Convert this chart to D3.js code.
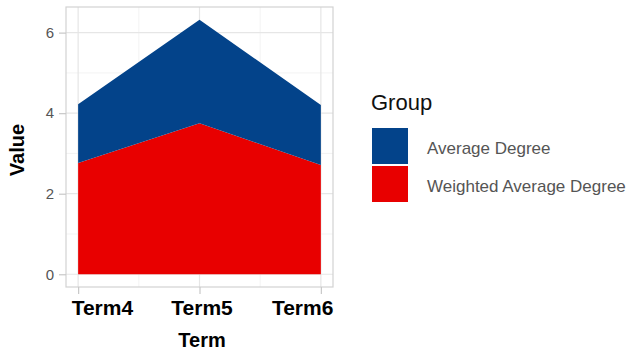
<!DOCTYPE html>
<html>
<head>
<meta charset="utf-8">
<script src="https://cdn.jsdelivr.net/npm/d3@7"></script>
<style>
  html, body { margin: 0; padding: 0; background: #fff; }
  svg { display: block; }
</style>
</head>
<body>
<svg id="chart" width="635" height="351"></svg>
<script>
// Terms on the x axis
const terms = ["Term4", "Term5", "Term6"];
// Group values per term (stacked areas; first group sits on top)
const weightedAverageDegree = [2.76, 3.75, 2.71];
const averageDegree = [1.46, 2.57, 1.49];
const groups = ["Average Degree", "Weighted Average Degree"];
const groupColors = ["#03438A", "#E80000"];
const yTicks = [0, 2, 4, 6];
const yMinorTicks = [1, 3, 5];

const svg = d3.select("#chart");
const panel = { left: 66, top: 7, right: 333, bottom: 287 };

const rows = terms.map((t, i) => ({
  term: t, i,
  "Weighted Average Degree": weightedAverageDegree[i],
  "Average Degree": averageDegree[i]
}));

// Stack with the weighted series at the bottom
const stack = d3.stack().keys(["Weighted Average Degree", "Average Degree"]);
const series = stack(rows);

const yMax = d3.max(series[series.length - 1], d => d[1]);
const yPad = yMax * 0.05;
const y = d3.scaleLinear().domain([-yPad, yMax + yPad]).range([panel.bottom, panel.top]);
const xPad = (terms.length - 1) * 0.05;
const x = d3.scaleLinear().domain([-xPad, terms.length - 1 + xPad]).range([panel.left, panel.right]);

// Grid lines
const grid = svg.append("g");
yMinorTicks.forEach(v => grid.append("line")
  .attr("x1", panel.left).attr("x2", panel.right)
  .attr("y1", y(v)).attr("y2", y(v))
  .attr("stroke", "#f0f0f0").attr("stroke-width", 0.8));
d3.range(terms.length - 1).map(i => i + 0.5).forEach(v => grid.append("line")
  .attr("y1", panel.top).attr("y2", panel.bottom)
  .attr("x1", x(v)).attr("x2", x(v))
  .attr("stroke", "#f0f0f0").attr("stroke-width", 0.8));
yTicks.forEach(v => grid.append("line")
  .attr("x1", panel.left).attr("x2", panel.right)
  .attr("y1", y(v)).attr("y2", y(v))
  .attr("stroke", "#e6e6e6").attr("stroke-width", 1.2));
terms.forEach((t, i) => grid.append("line")
  .attr("y1", panel.top).attr("y2", panel.bottom)
  .attr("x1", x(i)).attr("x2", x(i))
  .attr("stroke", "#e6e6e6").attr("stroke-width", 1.2));

// Areas
const area = d3.area()
  .x(d => x(d.data.i))
  .y0(d => y(d[0]))
  .y1(d => y(d[1]));
const colorOf = k => groupColors[groups.indexOf(k)];
svg.append("g").selectAll("path")
  .data(series)
  .join("path")
  .attr("d", area)
  .attr("fill", d => colorOf(d.key));

// Panel border
svg.append("rect")
  .attr("x", panel.left).attr("y", panel.top)
  .attr("width", panel.right - panel.left).attr("height", panel.bottom - panel.top)
  .attr("fill", "none").attr("stroke", "#d2d2d2").attr("stroke-width", 1.2);

// Y axis
const yAxis = d3.axisLeft(y).tickValues(yTicks).tickSize(7).tickPadding(5).tickFormat(d3.format("d"));
const yg = svg.append("g").attr("transform", `translate(${panel.left},0)`).call(yAxis);
yg.select(".domain").remove();
yg.selectAll(".tick line").attr("stroke", "#c8c8c8").attr("stroke-width", 1.2);
yg.selectAll(".tick text")
  .attr("fill", "#555").attr("font-size", 15)
  .attr("font-family", "Liberation Sans, Arial, sans-serif");

// X axis: outer labels are spread so they stay inside the panel width
const xAxis = d3.axisBottom(x).tickValues(d3.range(terms.length)).tickSize(7).tickPadding(6)
  .tickFormat(i => terms[i]);
const xg = svg.append("g").attr("transform", `translate(0,${panel.bottom})`).call(xAxis);
xg.select(".domain").remove();
xg.selectAll(".tick line").attr("stroke", "#c8c8c8").attr("stroke-width", 1.2);
const last = terms.length - 1;
xg.selectAll(".tick text")
  .attr("fill", "#000").attr("font-size", 21).attr("font-weight", "bold")
  .attr("font-family", "Liberation Sans, Arial, sans-serif")
  .attr("text-anchor", i => i === 0 ? "start" : i === last ? "end" : "middle")
  .attr("dx", i => i === 0 ? -7 : i === last ? 12 : 2);

// Axis titles
svg.append("text")
  .attr("x", (panel.left + panel.right) / 2 + 2.5).attr("y", 347)
  .attr("text-anchor", "middle")
  .attr("font-family", "Liberation Sans, Arial, sans-serif")
  .attr("font-size", 20).attr("font-weight", "bold").attr("fill", "#000")
  .text("Term");
svg.append("text")
  .attr("transform", `translate(24,150) rotate(-90)`)
  .attr("text-anchor", "middle")
  .attr("font-family", "Liberation Sans, Arial, sans-serif")
  .attr("font-size", 20).attr("font-weight", "bold").attr("fill", "#000")
  .text("Value");

// Legend
const legend = svg.append("g");
legend.append("text")
  .attr("x", 371).attr("y", 110)
  .attr("font-family", "Liberation Sans, Arial, sans-serif")
  .attr("font-size", 22).attr("fill", "#111")
  .text("Group");
groups.forEach((g, i) => {
  const top = 128 + i * 38;
  legend.append("rect")
    .attr("x", 372).attr("y", top)
    .attr("width", 36).attr("height", 36)
    .attr("fill", groupColors[i]);
  legend.append("text")
    .attr("x", 427).attr("y", top + 26)
    .attr("font-family", "Liberation Sans, Arial, sans-serif")
    .attr("font-size", 17).attr("fill", "#555")
    .text(g);
});
</script>
</body>
</html>
